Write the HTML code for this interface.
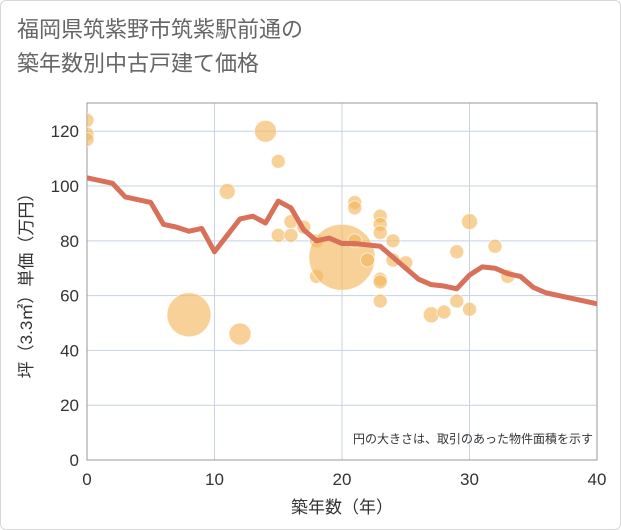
<!DOCTYPE html>
<html><head><meta charset="utf-8"><style>
body{margin:0;background:#fff;}
#wrap{position:relative;width:619px;height:528px;border:1px solid #d8d8d8;border-radius:6px;background:#fff;overflow:hidden;}
#title{position:absolute;left:16px;top:12px;font:22px "Liberation Sans","Noto Sans CJK JP",sans-serif;color:#666;line-height:34px;}
svg text{font-family:"Liberation Sans","Noto Sans CJK JP",sans-serif;}
</style></head><body>
<div id="wrap">
<div id="title">福岡県筑紫野市筑紫駅前通の<br>築年数別中古戸建て価格</div>
<svg id="chart" width="621" height="530" style="position:absolute;left:-1px;top:-1px"><defs><clipPath id="pc"><rect x="87" y="103" width="510" height="357"/></clipPath></defs></svg>
</div>
<script>
const xTicks=[0,10,20,30,40];
const yTicks=[0,20,40,60,80,100,120];
const bubbleYears=[0,0,0,8,11,12,14,15,15,16,16,17,18,18,20,21,21,21,22,23,23,23,23,23,23,24,24,25,27,28,29,29,30,30,32,33];
const bubblePrices=[124,119,117,53,98,46,120,109,82,87,82,85,80,67,74,94,92,80,73,89,86,83,66,65,58,80,73,72,53,54,76,58,87,55,78,67];
const bubbleSizes=[7,7,7,22,8,11,11,7,7,7,7,7,7,7,33,7,7,7,7,7,7,7,7,7,7,7,7,7,8,7,7,7,8,7,7,7];
const lineYears=[0,1,2,3,4,5,6,7,8,9,10,11,12,13,14,15,16,17,18,19,20,21,22,23,24,25,26,27,28,29,30,31,32,33,34,35,36,37,38,39,40];
const linePrices=[103,102,101,96,95,94,86,85,83.5,84.5,76,82,88,89,86.5,94.5,92,84,80,81,79,79,78.5,78,74,70,66,64,63.5,62.5,67.5,70.5,70,68,67,63,61,60,59,58,57];
const L=87,R=597,T=103,B=460;
const x=v=>L+(R-L)*v/40;
const y=v=>B-(B-T)*v/130.3;
const svg=document.getElementById('chart');
const NS='http://www.w3.org/2000/svg';
function mk(t,a,p){const e=document.createElementNS(NS,t);for(const k in a)e.setAttribute(k,a[k]);(p||svg).appendChild(e);return e;}
yTicks.forEach(v=>{const l=mk('line',{x1:L,x2:R,y1:y(v),y2:y(v),stroke:'#c5d3e3','stroke-width':1});


const t=mk('text',{x:L-8,y:y(v)+6,'text-anchor':'end','font-size':17,fill:'#333'});t.textContent=v;

});
xTicks.forEach(v=>{const l=mk('line',{x1:x(v),x2:x(v),y1:T,y2:B,stroke:'#c5d3e3','stroke-width':1});


const t=mk('text',{x:x(v),y:B+25,'text-anchor':'middle','font-size':17,fill:'#333'});t.textContent=v;

});
const fr=mk('rect',{x:L,y:T,width:R-L,height:B-T,fill:'none',stroke:'#999','stroke-width':1});


const g=mk('g',{'clip-path':'url(#pc)'});


bubbleYears.forEach((v,i)=>{const c=mk('circle',{cx:x(v),cy:y(bubblePrices[i]),r:bubbleSizes[i],fill:'rgba(242,184,96,0.65)',stroke:'rgba(255,255,255,0.6)','stroke-width':1},g);

});
const p=mk('polyline',{points:lineYears.map((v,i)=>x(v)+','+y(linePrices[i])).join(' '),fill:'none',stroke:'#d9705a','stroke-width':5,'stroke-linejoin':'round'},g);


const n=mk('text',{x:593,y:443,'text-anchor':'end','font-size':12,fill:'#333'});n.textContent='円の大きさは、取引のあった物件面積を示す';


const xt=mk('text',{x:x(20),y:513,'text-anchor':'middle','font-size':17,fill:'#333'});xt.textContent='築年数（年）';


const yt=mk('text',{x:0,y:0,'text-anchor':'middle','font-size':17,fill:'#333',transform:'translate(32,'+((T+B)/2)+') rotate(-90)'});yt.textContent='坪（3.3㎡）単価（万円）';


</script>
</body></html>
